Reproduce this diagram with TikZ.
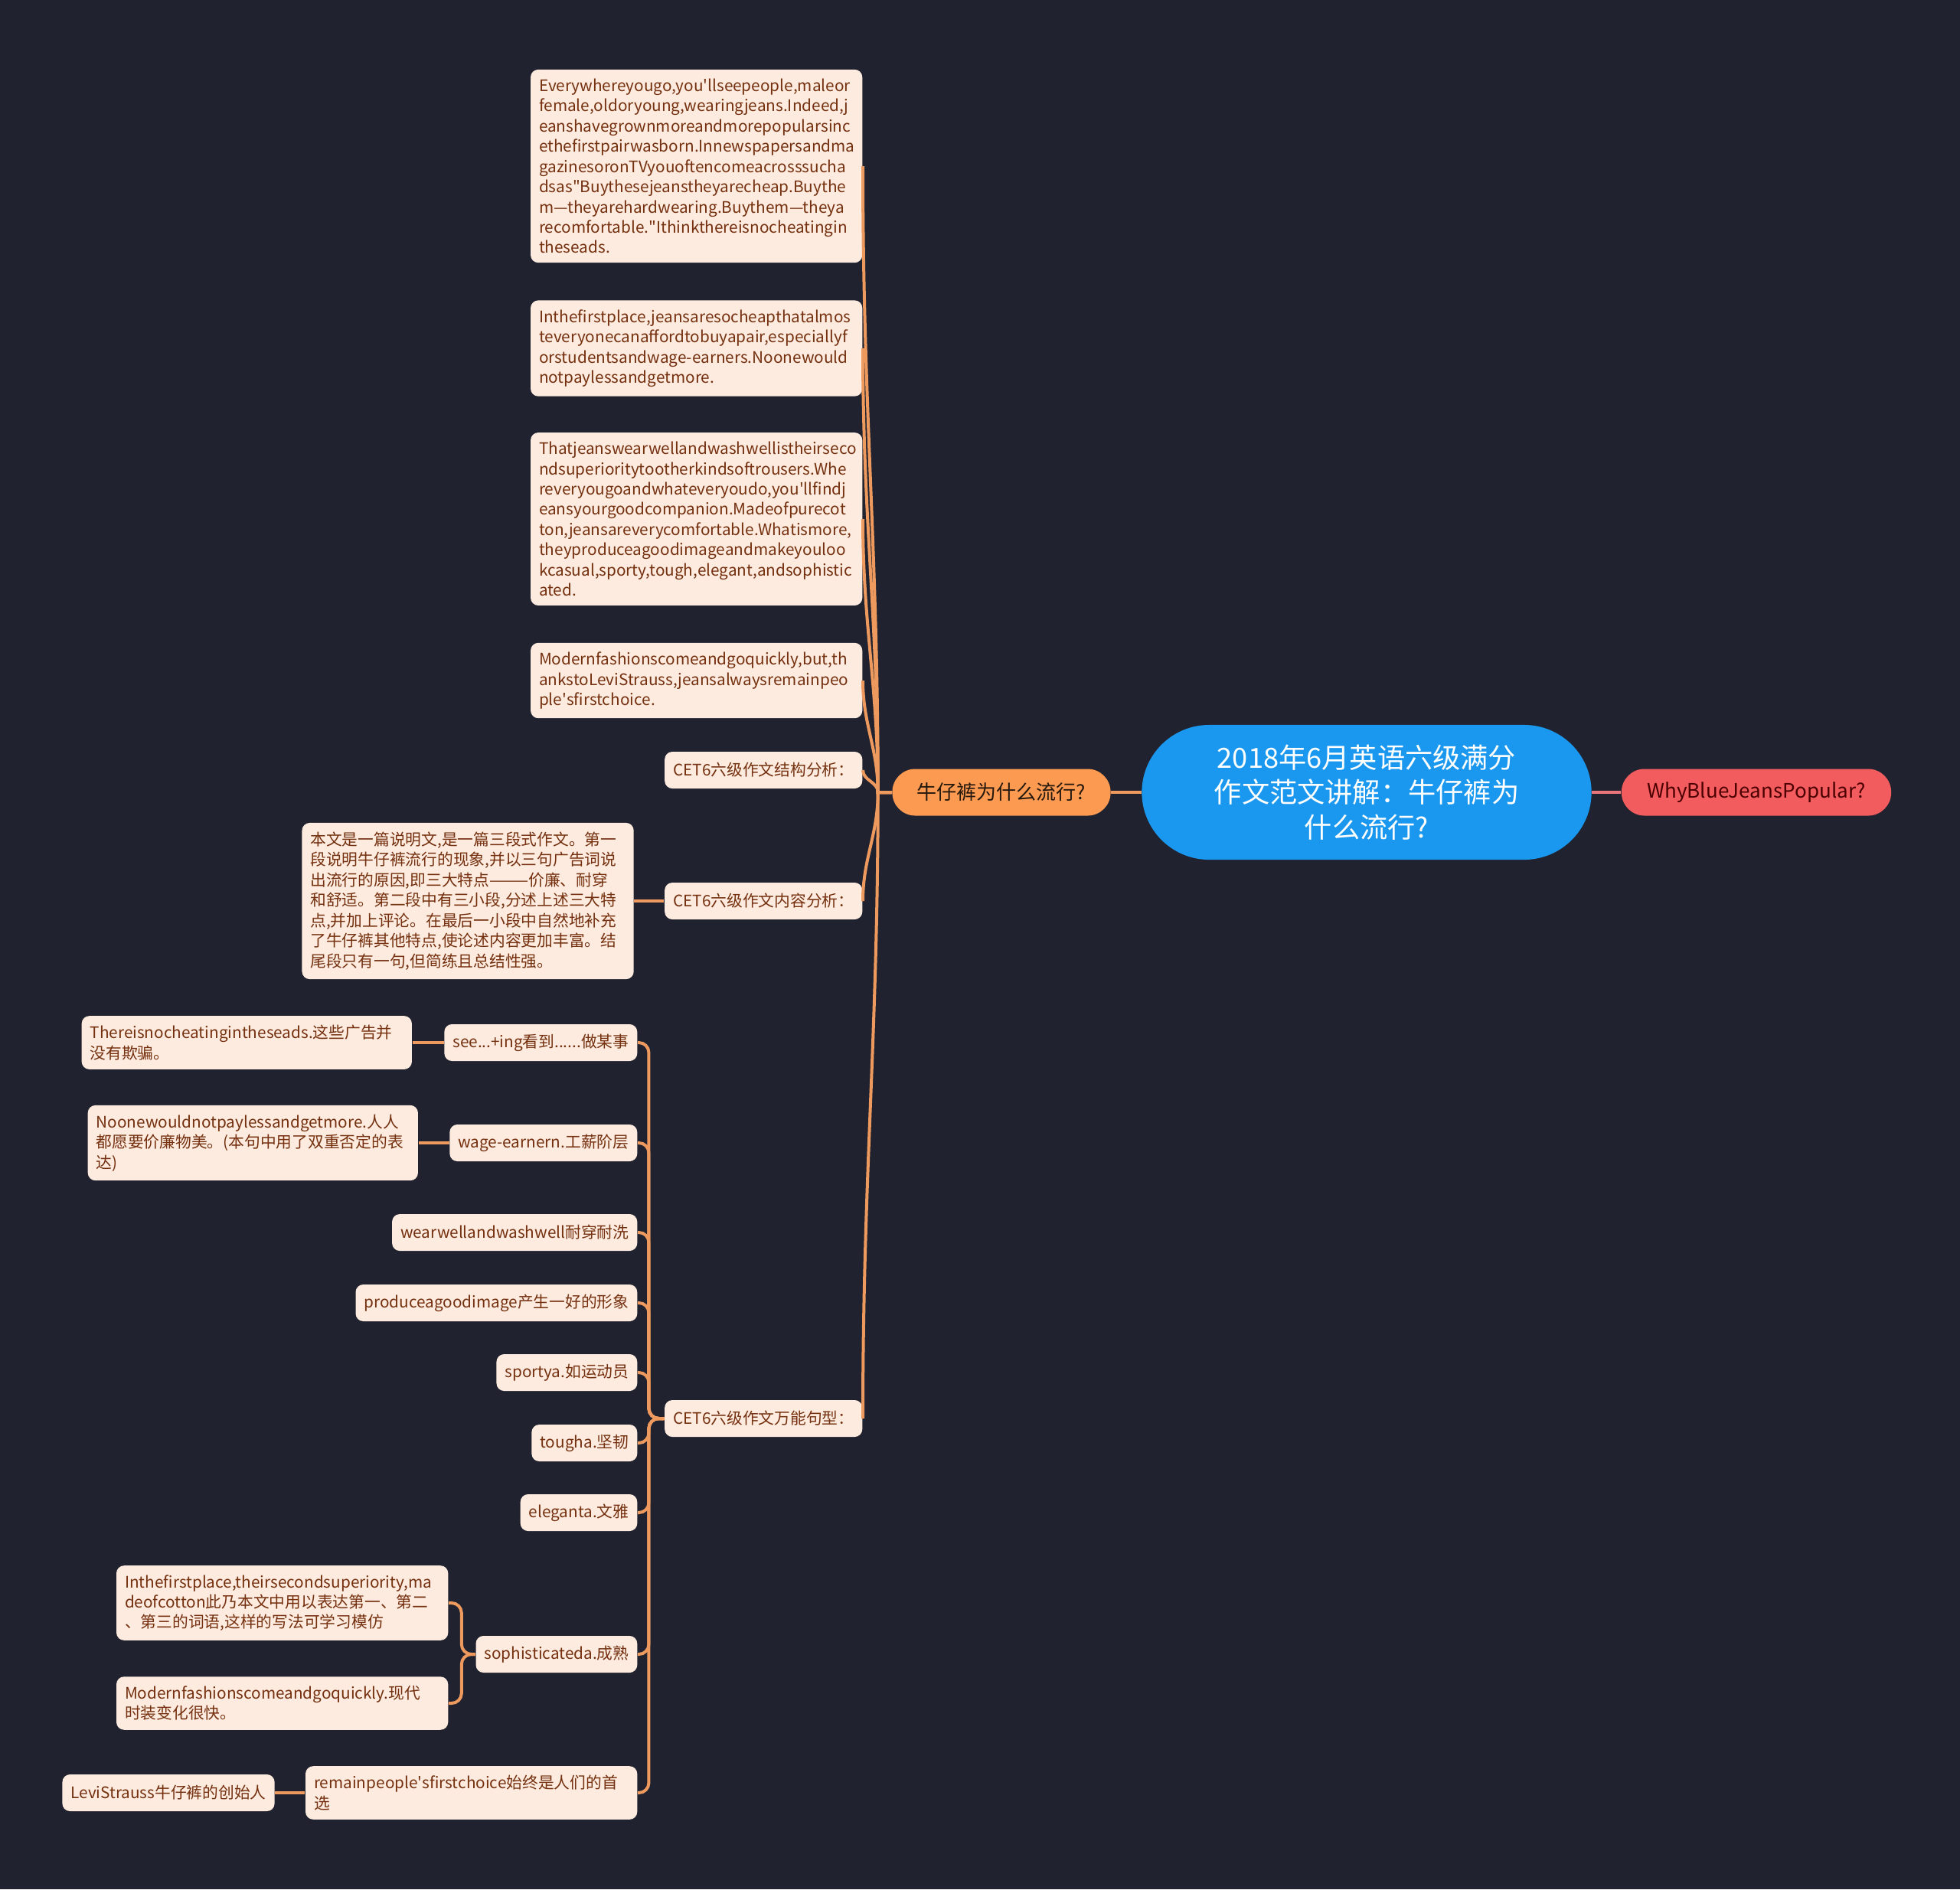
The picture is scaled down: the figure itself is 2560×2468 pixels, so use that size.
\documentclass[tikz,border=0pt]{standalone}
\usepackage{fontspec}
\setmainfont{Noto Sans CJK SC}
\usetikzlibrary{positioning}

\definecolor{bgcol}{HTML}{20232F}
\definecolor{boxfill}{HTML}{FDEBDF}
\definecolor{boxtext}{HTML}{74300F}
\definecolor{conncol}{HTML}{EE9A5E}
\definecolor{rootfill}{HTML}{1A98EF}
\definecolor{midfill}{HTML}{FC9A52}
\definecolor{whyfill}{HTML}{F35C5E}
\definecolor{whyconn}{HTML}{E8767A}

\begin{document}
\begin{tikzpicture}[
    x=0.01cm, y=-0.01cm,
    labelbox/.style={fill=boxfill, text=boxtext, rounded corners=0.1cm, inner xsep=0.11cm, inner ysep=0.12cm, minimum height=0.48cm, font=\fontsize{5.9pt}{7.52pt}\selectfont},
    textbox/.style={labelbox, text width=4.11cm, align=left},
    topic/.style={fill=midfill, text={black!80!brown}, rounded corners=0.3cm, minimum width=2.85cm, minimum height=0.61cm, font=\fontsize{7.4pt}{9pt}\selectfont},
    roottopic/.style={fill=rootfill, text=white, rounded corners=0.88cm, minimum width=5.87cm, minimum height=1.76cm, align=center, font=\fontsize{10.3pt}{13pt}\selectfont},
    conn/.style={draw=conncol, line width=0.04cm}
]
\fill[bgcol] (0,0) rectangle (2560,2468);
\useasboundingbox (0,0) rectangle (2560,2468);

% root and first level
\node[roottopic] (root) at (1785,1035) {2018年6月英语六级满分\\作文范文讲解：牛仔裤为\\什么流行?};
\node[topic, fill=whyfill, minimum width=3.52cm, text={black!70!red}] (why) at (2294,1035) {WhyBlueJeansPopular?};
\node[topic] (mid) at (1308,1035) {牛仔裤为什么流行?};

\draw[conn] (root.west) -- (mid.east);
\draw[conn, draw=whyconn] (root.east) -- (why.west);

% essay paragraphs
\node[textbox, anchor=east] (s1) at (1127,217) {Everywhereyougo,you\textquotesingle llseepeople,maleor\\female,oldoryoung,wearingjeans.Indeed,j\\eanshavegrownmoreandmorepopularsinc\\ethefirstpairwasborn.Innewspapersandma\\gazinesoronTVyouoftencomeacrosssucha\\dsas\textquotedbl Buythesejeanstheyarecheap.Buythe\\m—theyarehardwearing.Buythem—theya\\recomfortable.\textquotedbl Ithinkthereisnocheatingin\\theseads.};
\node[textbox, anchor=east] (s2) at (1127,455) {Inthefirstplace,jeansaresocheapthatalmos\\teveryonecanaffordtobuyapair,especiallyf\\orstudentsandwage-earners.Noonewould\\notpaylessandgetmore.};
\node[textbox, anchor=east] (s3) at (1127,678) {Thatjeanswearwellandwashwellistheirseco\\ndsuperioritytootherkindsoftrousers.Whe\\reveryougoandwhateveryoudo,you\textquotesingle llfindj\\eansyourgoodcompanion.Madeofpurecot\\ton,jeansareverycomfortable.Whatismore,\\theyproduceagoodimageandmakeyouloo\\kcasual,sporty,tough,elegant,andsophistic\\ated.};
\node[textbox, anchor=east] (s4) at (1127,889) {Modernfashionscomeandgoquickly,but,th\\ankstoLeviStrauss,jeansalwaysremainpeo\\ple\textquotesingle sfirstchoice.};

% analysis
\node[labelbox, anchor=east] (st) at (1127,1006) {CET6六级作文结构分析：};
\node[labelbox, anchor=east] (ct) at (1127,1177) {CET6六级作文内容分析：};
\node[textbox, left=0.39cm of ct] (ctd) {本文是一篇说明文,是一篇三段式作文。第一\\段说明牛仔裤流行的现象,并以三句广告词说\\出流行的原因,即三大特点———价廉、耐穿\\和舒适。第二段中有三小段,分述上述三大特\\点,并加上评论。在最后一小段中自然地补充\\了牛仔裤其他特点,使论述内容更加丰富。结\\尾段只有一句,但简练且总结性强。};
\node[labelbox, anchor=east] (ws) at (1127,1853) {CET6六级作文万能句型：};

\foreach \c in {s1,s2,s3,s4,st}
    \draw[conn] (mid.west) -- ++(-18,0) to[out=90,in=270] (\c.east);
\foreach \c in {ct,ws}
    \draw[conn] (mid.west) -- ++(-18,0) to[out=270,in=90] (\c.east);
\draw[conn] (ct.west) -- (ctd.east);

% sentence patterns
\node[labelbox, anchor=east] (w1) at (833,1362) {see...+ing看到......做某事};
\node[textbox, text width=4.09cm, left=0.41cm of w1] (w1d) {Thereisnocheatingintheseads.这些广告并\\没有欺骗。};
\node[labelbox, anchor=east] (w2) at (833,1493) {wage-earnern.工薪阶层};
\node[textbox, text width=4.09cm, left=0.40cm of w2] (w2d) {Noonewouldnotpaylessandgetmore.人人\\都愿要价廉物美。(本句中用了双重否定的表\\达)};
\node[labelbox, anchor=east] (w3) at (833,1610) {wearwellandwashwell耐穿耐洗};
\node[labelbox, anchor=east] (w4) at (833,1702) {produceagoodimage产生一好的形象};
\node[labelbox, anchor=east] (w5) at (833,1793) {sportya.如运动员};
\node[labelbox, anchor=east] (w6) at (833,1885) {tougha.坚韧};
\node[labelbox, anchor=east] (w7) at (833,1976) {eleganta.文雅};
\node[labelbox, anchor=east] (w8) at (833,2161) {sophisticateda.成熟};
\node[textbox, anchor=east] (w8a) at (586,2094) {Inthefirstplace,theirsecondsuperiority,ma\\deofcotton此乃本文中用以表达第一、第二\\、第三的词语,这样的写法可学习模仿};
\node[textbox, anchor=east] (w8b) at (586,2225) {Modernfashionscomeandgoquickly.现代\\时装变化很快。};
\node[textbox, anchor=east] (w9) at (833,2342) {remainpeople\textquotesingle sfirstchoice始终是人们的首\\选};
\node[labelbox, left=0.39cm of w9] (w9d) {LeviStrauss牛仔裤的创始人};

\foreach \c in {w1,w2,w3,w4,w5,w6,w7,w8,w9}
    \draw[conn, rounded corners=0.13cm] (ws.west) -- ++(-20,0) |- (\c.east);
\foreach \c in {w8a,w8b}
    \draw[conn, rounded corners=0.13cm] (w8.west) -- ++(-18,0) |- (\c.east);
\draw[conn] (w1.west) -- (w1d.east);
\draw[conn] (w2.west) -- (w2d.east);
\draw[conn] (w9.west) -- (w9d.east);

\end{tikzpicture}
\end{document}
